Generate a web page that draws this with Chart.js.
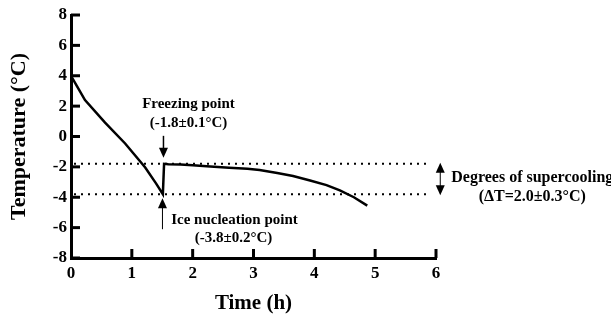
<!DOCTYPE html>
<html>
<head>
<meta charset="utf-8">
<script src="https://cdn.jsdelivr.net/npm/chart.js@4.4.0/dist/chart.umd.min.js"></script>
<style>
    html, body { margin: 0; padding: 0; background: #ffffff; }
    #wrap { width: 611px; height: 320px; }
</style>
</head>
<body>
<div id="wrap"><canvas id="chartTemp"></canvas></div>
<script>
// ===== Datos =====
const tiempos = [0, 0.1, 0.23, 0.56, 0.89, 1.22, 1.4, 1.51, 1.53, 1.6, 1.8, 2.0, 2.29, 2.6, 2.9, 3.1, 3.39, 3.65, 3.93, 4.2, 4.42, 4.65, 4.87];
const temperaturas = [4.0, 3.3, 2.4, 0.92, -0.46, -2.04, -3.1, -3.8, -1.8, -1.82, -1.85, -1.9, -1.97, -2.05, -2.12, -2.2, -2.4, -2.6, -2.9, -3.2, -3.55, -4.0, -4.55];
const ticksX = [0, 1, 2, 3, 4, 5, 6];
const ticksY = [-8, -6, -4, -2, 0, 2, 4, 6, 8];
const puntoCongelacion = -1.8;
const puntoNucleacion = -3.8;
const tiempoSalto = 1.52;
const finLineasPunteadas = 5.9;
const tiempoFlechaDoble = 6.07;

const FUENTE = '"Liberation Serif", "Times New Roman", serif';

function flecha(ctx, x, y1, y2, ancho, grosor) {
    // flecha vertical de y1 (cola) a y2 (punta)
    const dir = y2 > y1 ? 1 : -1;
    ctx.lineWidth = grosor;
    ctx.beginPath();
    ctx.moveTo(x, y1);
    ctx.lineTo(x, y2 - dir * 8);
    ctx.stroke();
    ctx.beginPath();
    ctx.moveTo(x, y2);
    ctx.lineTo(x - ancho / 2, y2 - dir * 10);
    ctx.lineTo(x + ancho / 2, y2 - dir * 10);
    ctx.closePath();
    ctx.fill();
}

const anotaciones = {
    id: 'anotaciones',
    afterDraw(chart) {
        const ctx = chart.ctx;
        const sx = chart.scales.x;
        const sy = chart.scales.y;
        const area = chart.chartArea;
        ctx.save();
        ctx.strokeStyle = '#000';
        ctx.fillStyle = '#000';

        // marcas hacia adentro
        ctx.lineWidth = 3;
        ticksX.slice(1).forEach(v => {
            const px = sx.getPixelForValue(v);
            ctx.beginPath();
            ctx.moveTo(px, area.bottom);
            ctx.lineTo(px, area.bottom - 9);
            ctx.stroke();
        });
        ticksY.forEach(v => {
            const py = sy.getPixelForValue(v);
            ctx.beginPath();
            ctx.moveTo(area.left, py);
            ctx.lineTo(area.left + 9, py);
            ctx.stroke();
        });

        // líneas punteadas
        ctx.lineWidth = 2;
        ctx.setLineDash([2, 5]);
        [puntoCongelacion, puntoNucleacion].forEach(v => {
            const py = sy.getPixelForValue(v);
            ctx.beginPath();
            ctx.moveTo(sx.getPixelForValue(0) + 3, py);
            ctx.lineTo(sx.getPixelForValue(finLineasPunteadas), py);
            ctx.stroke();
        });
        ctx.setLineDash([]);

        const xs = sx.getPixelForValue(tiempoSalto);
        const yc = sy.getPixelForValue(puntoCongelacion);
        const yn = sy.getPixelForValue(puntoNucleacion);

        // flecha punto de congelación
        flecha(ctx, xs, yc - 28, yc - 6, 9, 1.5);
        // flecha punto de nucleación
        flecha(ctx, xs - 1, yn + 35, yn + 4, 9, 1);

        // flecha doble
        const xd = sx.getPixelForValue(tiempoFlechaDoble);
        flecha(ctx, xd, (yc + yn) / 2, yc - 1, 9, 1);
        flecha(ctx, xd, (yc + yn) / 2, yn + 1, 9, 1);

        ctx.textAlign = 'center';
        ctx.textBaseline = 'middle';
        ctx.font = 'bold 15px ' + FUENTE;
        ctx.fillText('Freezing point', xs + 25, yc - 60);
        ctx.fillText('(-1.8\u00b10.1\u00b0C)', xs + 25, yc - 41);
        ctx.fillText('Ice nucleation point', xs + 71, yn + 26);
        ctx.fillText('(-3.8\u00b10.2\u00b0C)', xs + 70, yn + 44);
        ctx.font = 'bold 16px ' + FUENTE;
        ctx.fillText('Degrees of supercooling', xd + 92, (yc + yn) / 2 - 1);
        ctx.fillText('(\u0394T=2.0\u00b10.3\u00b0C)', xd + 92, (yc + yn) / 2 + 18);
        ctx.restore();
    }
};

document.addEventListener('DOMContentLoaded', function() {
    const ctxTemp = document.getElementById('chartTemp');
    new Chart(ctxTemp, {
        type: 'line',
        data: {
            datasets: [{
                data: tiempos.map((t, i) => ({ x: t, y: temperaturas[i] })),
                borderColor: '#000000',
                borderWidth: 2.5,
                pointRadius: 0,
                tension: 0,
                fill: false
            }]
        },
        options: {
            responsive: true,
            maintainAspectRatio: false,
            animation: false,
            layout: { padding: { top: 15, right: 175, left: 0, bottom: 0 } },
            plugins: { legend: { display: false }, tooltip: { enabled: false } },
            scales: {
                x: {
                    type: 'linear',
                    min: 0,
                    max: 6,
                    afterFit: scale => { scale.height = 62; },
                    afterBuildTicks: scale => { scale.ticks = ticksX.map(v => ({ value: v })); },
                    grid: { display: true, drawOnChartArea: false, drawTicks: false },
                    border: { display: true, color: '#000', width: 3 },
                    ticks: {
                        color: '#000',
                        padding: 5,
                        maxRotation: 0,
                        font: { family: FUENTE, size: 17, weight: 'bold' }
                    },
                    title: {
                        display: true,
                        text: 'Time (h)',
                        color: '#000',
                        padding: { top: 6 },
                        font: { family: FUENTE, size: 21, weight: 'bold' }
                    }
                },
                y: {
                    min: -8,
                    max: 8,
                    afterFit: scale => { scale.width = 71; },
                    afterBuildTicks: scale => { scale.ticks = ticksY.map(v => ({ value: v })); },
                    grid: { display: true, drawOnChartArea: false, drawTicks: false },
                    border: { display: true, color: '#000', width: 3 },
                    ticks: {
                        color: '#000',
                        padding: 4,
                        font: { family: FUENTE, size: 17, weight: 'bold' }
                    },
                    title: {
                        display: true,
                        text: 'Temperature (\u00b0C)',
                        color: '#000',
                        padding: { top: 6, bottom: 4 },
                        font: { family: FUENTE, size: 22, weight: 'bold' }
                    }
                }
            }
        },
        plugins: [anotaciones]
    });
});
</script>
</body>
</html>
